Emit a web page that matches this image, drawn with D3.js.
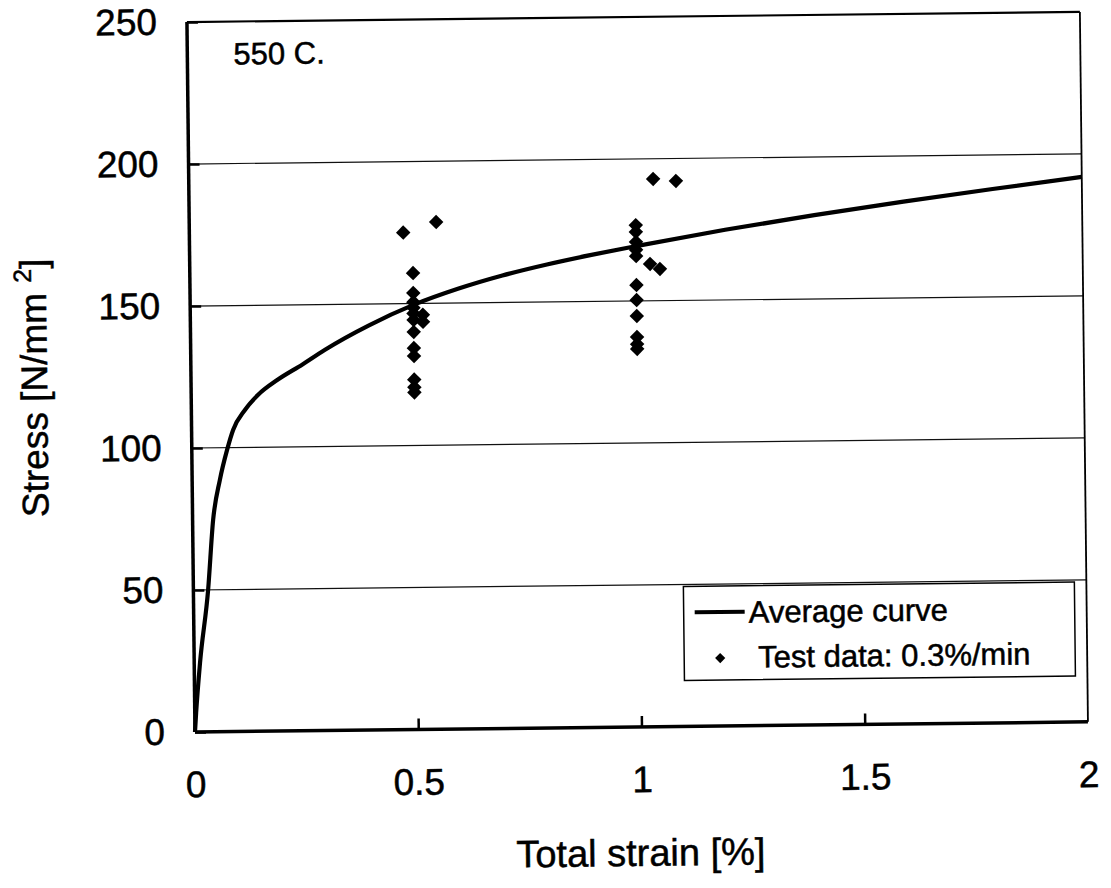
<html lang="en">
<head>
<meta charset="utf-8">
<title>Stress-strain 550 C</title>
<script src="https://d3js.org/d3.v7.min.js"></script>
<style>
  body { margin: 0; background: #fff; }
  svg { display: block; background: #fff; }
  text { font-family: "Liberation Sans", Arial, sans-serif; fill: #000; stroke: #000; stroke-width: 0.5px; }
  .grid line { stroke: #111; stroke-width: 1.2px; }
</style>
</head>
<body>
<svg id="chart" width="1111" height="888"></svg>
<script>
// average curve
var curveStrain = [0, 0.003, 0.013, 0.033, 0.046, 0.062, 0.079, 0.093, 0.12, 0.15, 0.193, 0.25, 0.3, 0.4, 0.5, 0.6, 0.7, 0.8, 0.9, 1.0, 1.2, 1.4, 1.6, 1.8, 2.0];
var curveStress = [0, 6.7, 24.3, 50, 74.6, 88.6, 99.2, 106.2, 113.2, 118.5, 123.6, 129, 134, 142.5, 149.5, 155, 159.5, 163.2, 166.4, 169.3, 174.7, 179.5, 183.9, 188, 191.9];

// test data 0.3%/min
var testStrain = [0.5, 0.5, 0.5, 0.5, 0.5, 0.5, 0.5, 0.5, 0.5, 0.5, 0.5, 0.5, 0.479, 0.553, 0.521, 0.521,
                  1.0, 1.0, 1.0, 1.0, 1.0, 1.0, 1.0, 1.0, 1.0, 1.0, 1.0, 1.031, 1.053, 1.040, 1.091];
var testStress = [160.7, 153.7, 150.5, 148.5, 146.5, 144.2, 140, 134.3, 131.5, 123.2, 120.5, 118.7, 175, 178.6, 146, 143.5,
                  176.7, 174.3, 170.8, 168, 165.8, 155.6, 150.3, 144.7, 137.3, 134.8, 133.1, 163, 161.2, 192.9, 192.1];

var xTicks = [0, 0.5, 1, 1.5, 2];
var yTicks = [0, 50, 100, 150, 200, 250];
var yGrid = [50, 100, 150, 200];

var svg = d3.select("#chart"),
    margin = {top: 22, left: 195},
    width = 893,
    height = 710;

// the scanned page is slightly tilted
var root = svg.append("g")
    .attr("transform", "rotate(-0.65," + margin.left + "," + (margin.top + height) + ")");
var g = root.append("g")
    .attr("transform", "translate(" + margin.left + "," + margin.top + ")");

var x = d3.scaleLinear().domain([0, 2]).range([0, width]);
var y = d3.scaleLinear().domain([0, 250]).range([height, 0]);

// gridlines
g.append("g").attr("class", "grid")
  .selectAll("line").data(yGrid).enter().append("line")
  .attr("x1", 0).attr("x2", width)
  .attr("y1", function (d) { return y(d); })
  .attr("y2", function (d) { return y(d); });

// frame: thin top/right, thick left/bottom
g.append("line").attr("x1", 0).attr("x2", width).attr("y1", 0).attr("y2", 0)
  .attr("stroke", "#000").attr("stroke-width", 2.2);
g.append("line").attr("x1", width).attr("x2", width).attr("y1", 0).attr("y2", height)
  .attr("stroke", "#000").attr("stroke-width", 1.8);

// axes
var xAxis = g.append("g")
  .attr("transform", "translate(0," + height + ")")
  .call(d3.axisBottom(x).tickValues(xTicks).tickFormat(d3.format("")).tickSizeInner(-11).tickSizeOuter(0).tickPadding(39));
var yAxis = g.append("g")
  .call(d3.axisLeft(y).tickValues(yTicks).tickSizeInner(-11).tickSizeOuter(0).tickPadding(30));

[xAxis, yAxis].forEach(function (a) {
  a.select(".domain").remove();
  a.selectAll(".tick line").attr("stroke", "#000").attr("stroke-width", 2.5);
  a.selectAll(".tick text").style("font-size", "37px").attr("fill", "#000");
});
xAxis.selectAll(".tick line").filter(function (d) { return d === 0 || d === 2; }).remove();

g.append("line").attr("x1", 0).attr("x2", 0).attr("y1", 0).attr("y2", height)
  .attr("stroke", "#000").attr("stroke-width", 3.5);
g.append("line").attr("x1", 0).attr("x2", width).attr("y1", height).attr("y2", height)
  .attr("stroke", "#000").attr("stroke-width", 3.5);

// average curve
var line = d3.line().curve(d3.curveMonotoneX)
  .x(function (d) { return x(d[0]); })
  .y(function (d) { return y(d[1]); });
g.append("path")
  .datum(d3.zip(curveStrain, curveStress))
  .attr("d", line)
  .attr("fill", "none").attr("stroke", "#000").attr("stroke-width", 4.2)
  .attr("stroke-linejoin", "round");

// test points
var diamond = d3.symbol().type(d3.symbolSquare).size(105);
g.selectAll(".pt").data(d3.zip(testStrain, testStress)).enter().append("path")
  .attr("class", "pt")
  .attr("d", diamond)
  .attr("transform", function (d) { return "translate(" + x(d[0]) + "," + y(d[1]) + ") rotate(45)"; })
  .attr("fill", "#000");

// annotation
g.append("text").attr("x", 46).attr("y", 43).style("font-size", "31px").text("550 C.");

// axis titles
g.append("text")
  .attr("x", width / 2 - 2).attr("y", height + 139)
  .attr("text-anchor", "middle").style("font-size", "38px")
  .text("Total strain [%]");

var yt = g.append("text")
  .attr("transform", "translate(-144," + (height / 2 + 9) + ") rotate(-90)")
  .attr("text-anchor", "middle").style("font-size", "37px");
yt.append("tspan").text("Stress [N/mm ");
yt.append("tspan").attr("dy", -15).style("font-size", "25px").text("2");
yt.append("tspan").attr("dy", 15).text("]");

// legend
var lg = g.append("g").attr("transform", "translate(" + 490 + "," + 570 + ")");
lg.append("rect").attr("x", 0).attr("y", 0).attr("width", 391).attr("height", 94)
  .attr("fill", "#fff").attr("stroke", "#000").attr("stroke-width", 1.5);
lg.append("line").attr("x1", 11).attr("x2", 61).attr("y1", 26).attr("y2", 26)
  .attr("stroke", "#000").attr("stroke-width", 4);
lg.append("text").attr("x", 65).attr("y", 37).style("font-size", "31px").text("Average curve");
lg.append("path").attr("d", d3.symbol().type(d3.symbolSquare).size(52))
  .attr("transform", "translate(36,72) rotate(45)").attr("fill", "#000");
lg.append("text").attr("x", 74).attr("y", 82).style("font-size", "31px").text("Test data: 0.3%/min");
</script>
</body>
</html>
